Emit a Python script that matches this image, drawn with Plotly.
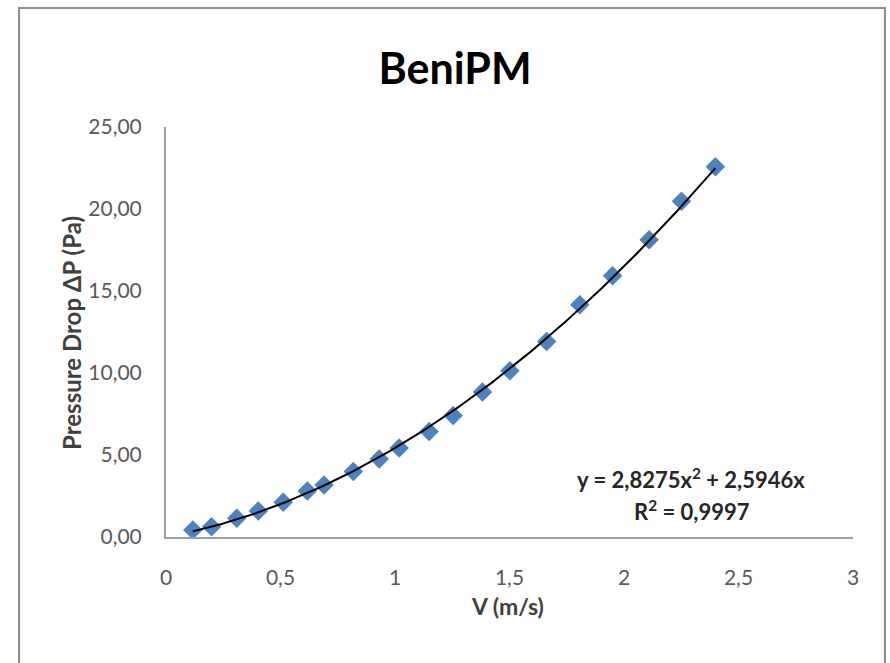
import numpy as np
import plotly.graph_objects as go

# Data
velocity = [0.117, 0.199, 0.309, 0.403, 0.512, 0.617, 0.690, 0.818, 0.931, 1.018,
            1.149, 1.254, 1.382, 1.502, 1.662, 1.807, 1.950, 2.110, 2.251, 2.399]
pressure_drop = [0.43, 0.63, 1.14, 1.59, 2.12, 2.81, 3.17, 3.99, 4.76, 5.42,
                 6.43, 7.41, 8.84, 10.13, 11.92, 14.16, 15.93, 18.13, 20.47, 22.57]

# Trendline coefficients (as printed on the chart)
coef_a = 2.8275
coef_b = 2.5946
r_squared = "0,9997"

x_ticks = [0, 0.5, 1, 1.5, 2, 2.5, 3]
x_tick_labels = ["0", "0,5", "1", "1,5", "2", "2,5", "3"]
y_ticks = [0, 5, 10, 15, 20, 25]
y_tick_labels = ["0,00", "5,00", "10,00", "15,00", "20,00", "25,00"]

trend_x = np.linspace(min(velocity), max(velocity), 200)
trend_y = coef_a * trend_x ** 2 + coef_b * trend_x

FONT = "Lato, 'Open Sans', sans-serif"
W, H = 890, 663
ML, MR, MT, MB = 166, 37, 127, 126
PW, PH = W - ML - MR, H - MT - MB

def px2paper_x(px):
    return (px - ML) / PW

def px2paper_y(py):
    return (H - MB - py) / PH

fig = go.Figure()
fig.add_trace(go.Scatter(
    x=velocity, y=pressure_drop, mode="markers",
    marker=dict(symbol="diamond", size=15, color="#4F81BD", line=dict(width=0)),
    showlegend=False, hoverinfo="x+y"))
fig.add_trace(go.Scatter(
    x=trend_x, y=trend_y, mode="lines",
    line=dict(color="black", width=2), showlegend=False, hoverinfo="skip"))

fig.update_layout(
    width=W, height=H,
    margin=dict(l=ML, r=MR, t=MT, b=MB, autoexpand=False),
    paper_bgcolor="white", plot_bgcolor="white",
    font=dict(family=FONT, color="#595959", size=21),
    title=dict(text="<b>BeniPM</b>", x=455 / W, xanchor="center",
               y=1 - 69 / H, yanchor="middle",
               font=dict(family=FONT, size=43, color="black")),
    xaxis=dict(range=[0, 3], tickvals=x_ticks, ticktext=x_tick_labels,
               showgrid=False, zeroline=False, showline=True,
               linecolor="#A0A0A0", linewidth=2, ticks="",
               ticklabelstandoff=21, automargin=False,
               tickfont=dict(size=21, color="#595959")),
    yaxis=dict(range=[0, 25], tickvals=y_ticks, ticktext=y_tick_labels,
               showgrid=False, zeroline=False, showline=True,
               linecolor="#A0A0A0", linewidth=2, ticks="",
               ticklabelstandoff=18, automargin=False,
               tickfont=dict(size=21, color="#595959")),
    shapes=[dict(type="rect", xref="paper", yref="paper",
                 x0=px2paper_x(19), x1=px2paper_x(885),
                 y0=px2paper_y(700), y1=px2paper_y(8),
                 line=dict(color="#8C8C8C", width=2), fillcolor="rgba(0,0,0,0)",
                 layer="below")],
    annotations=[
        dict(text="<b>V (m/s)</b>", xref="paper", yref="paper",
             x=px2paper_x(507), y=px2paper_y(606), showarrow=False,
             xanchor="center", yanchor="middle",
             font=dict(family=FONT, size=23, color="#404040")),
        dict(text="<b>Pressure Drop ΔP (Pa)</b>", xref="paper", yref="paper",
             x=px2paper_x(71), y=px2paper_y(333), showarrow=False, textangle=-90,
             xanchor="center", yanchor="middle",
             font=dict(family=FONT, size=24, color="#404040")),
        dict(text=f"<b>y = {str(coef_a).replace('.', ',')}x<sup>2</sup> + {str(coef_b).replace('.', ',')}x</b>",
             xref="paper", yref="paper",
             x=px2paper_x(691), y=px2paper_y(478), showarrow=False,
             xanchor="center", yanchor="middle",
             font=dict(family=FONT, size=22, color="#262626")),
        dict(text=f"<b>R<sup>2</sup> = {r_squared}</b>",
             xref="paper", yref="paper",
             x=px2paper_x(692), y=px2paper_y(510), showarrow=False,
             xanchor="center", yanchor="middle",
             font=dict(family=FONT, size=22, color="#262626")),
    ],
)

fig.write_html("out.html", config={"displayModeBar": False},
               post_script="document.body.style.margin='0px';document.body.style.overflow='hidden';")
